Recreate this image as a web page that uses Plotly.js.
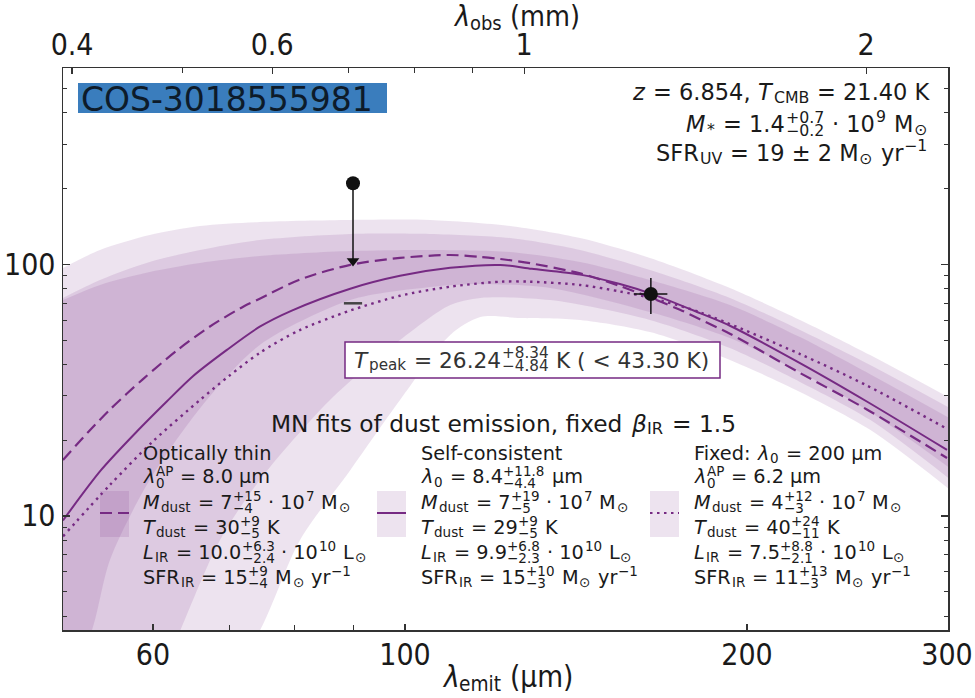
<!DOCTYPE html>
<html><head><meta charset="utf-8">
<script src="https://cdn.plot.ly/plotly-3.0.1.min.js"></script>
<style>body{margin:0;background:#fff}#chart{width:975px;height:698px}</style>
</head><body><div id="chart"></div>
<script>
// ---------------- data ----------------
const redshift = 6.854;
// self-consistent fit (solid)
const selfLam  = [50, 54, 58.1, 61.7, 65.1, 69.7, 74.5, 79.5, 89.5, 99, 109.6, 121.3, 129.3, 142.6, 154.6, 164.6, 181.8, 193.2, 222.7, 255, 300];
const selfFlux = [9.6, 15.2, 21.7, 28.5, 36, 45.7, 56.5, 65.5, 80, 90, 96.8, 99.4, 96, 91, 83.5, 76.5, 64, 57, 40.5, 28.5, 18.3];
// optically thin fit (dashed)
const thinLam  = [50, 52.6, 55, 58.8, 63, 67.3, 72.1, 74.5, 80.8, 89.5, 99, 109.6, 116.5, 121.3, 128.9, 142.6, 154.6, 174.6, 181.8, 193.2, 222.7, 255, 300];
const thinFlux = [16.7, 21.5, 26.5, 35.0, 45.5, 56.5, 68, 73, 87, 99.5, 106, 108.9, 107, 105, 101, 92, 82, 66, 60.5, 53, 37, 26.5, 17.0];
// fixed lambda0 = 200 um fit (dotted)
const fixLam  = [50, 55, 60, 66, 70, 74.5, 80.8, 89.5, 99, 109.6, 121.3, 128.9, 142.6, 154.6, 164.6, 181.8, 222.7, 255, 300];
const fixFlux = [8.3, 13.3, 19.8, 28.9, 36, 44.5, 54.8, 65.5, 75, 81.5, 85.3, 85.3, 82.8, 78, 73.5, 64.5, 44, 33, 22.2];
// uncertainty bands: upper edges
const hiLam   = [50, 53.9, 59.6, 66.0, 74.5, 89.5, 105.2, 123.7, 142.6, 164.3, 193.2, 222.7, 256.7, 300.6];
const fixHi   = [96.7, 114, 130.7, 142, 147.3, 150, 150, 142, 127.2, 105.9, 80.5, 60.1, 43.6, 29.7];
const thinHi  = [73.5, 86.6, 102.1, 114, 124.9, 132, 132, 127.2, 114, 94.9, 73.5, 54.8, 39.8, 27.1];
const selfHi  = [72.1, 82.8, 93.2, 101.2, 107.9, 112.9, 114, 111.9, 102.1, 86.6, 68.9, 51.4, 36.6, 24.7];
// uncertainty bands: lower edges
const thinLoLam = [50, 53.0, 55.0, 59.6, 66.9, 74.5, 89.5, 105.2, 116.5, 134.2, 164.3, 193.2, 222.7, 256.7, 300.6];
const thinLo    = [2.0, 3.5, 6.7, 13.9, 28.9, 47.8, 72.1, 81.2, 83.5, 80.5, 64.6, 50.9, 37.3, 25.9, 15.7];
const selfLoLam = [50, 59.6, 63.4, 68.7, 74.5, 85.9, 99.0, 109.6, 116.5, 134.2, 164.3, 193.2, 222.7, 256.7, 300.6];
const selfLo    = [0.5, 1.8, 3.5, 8.0, 13.9, 28.9, 50.0, 68.9, 73.5, 72.1, 60.1, 46.5, 34.1, 24.1, 14.2];
const fixLoLam  = [50, 66.0, 74.5, 80.8, 89.5, 99.0, 109.6, 116.5, 126.3, 142.6, 164.3, 193.2, 222.7, 256.7, 300.6];
const fixLo     = [0.1, 1.5, 3.5, 8.0, 15.2, 28.9, 52.4, 61.7, 61.2, 60.1, 53.8, 41.7, 31.1, 22.0, 12.9];
// photometry
const limLam = [90.0], limFlux = [210], limHeadFlux = [103], limTickFlux = [70];
const detLam = [164.6], detFlux = [76.2], detErrUp = [12.0], detErrDn = [12.7], detLamErrUp = [5.6], detLamErrDn = [5.6];
// T_peak marker
const peakLam = 129.3, peakFlux = 96;
// ticks
const emitTickVals = [60, 100, 200, 300], emitTickText = ['60', '100', '200', '300'], emitMinor = [70, 80, 90];
const obsTickVals = [0.4, 0.6, 1, 2], obsTickText = ['0.4', '0.6', '1', '2'], obsMinor = [0.5, 0.7, 0.8, 0.9];
const fluxTickVals = [10, 100], fluxTickText = ['10', '100'];
const fluxMinor = [4, 5, 6, 7, 8, 9, 20, 30, 40, 50, 60, 70, 80, 90, 200, 300, 400, 500];

// ---------------- style ----------------
const PURPLE = 'rgb(118,42,131)';
const BAND = 'rgba(118,42,131,0.13)';
const TXT = '#1a1a1a';
const FONT = 'DejaVu Sans';
const NARROW = 'Liberation Sans Narrow, DejaVu Sans Condensed, sans-serif';
const NARROW_CSS = '"Liberation Sans Narrow", "DejaVu Sans Condensed", sans-serif';
const L = 63, R = 948, T = 68, B = 630, PW = R - L, PH = B - T;
const XR = [Math.log10(50), Math.log10(300.6)], YR = [0.547, 2.78];
const px = x => (x - L) / PW, py = y => (B - y) / PH;

// ---------------- text runs (one plain text per run) ----------------
const cv = document.createElement('canvas').getContext('2d');
function meas(t, s, it, narrow) {
  cv.font = (it ? 'italic ' : '') + s + 'px ' + (narrow ? NARROW_CSS : '"' + FONT + '"');
  return cv.measureText(t).width;
}
const I = t => ({t, i: true}), S = t => ({t, sub: true}), P = t => ({t, sup: true}), K = (up, dn) => ({up, dn});
const anns = [], shapes = [];
function ann(x, y, t, s, it, color, narrow) {
  anns.push({xref: 'paper', yref: 'paper', x: px(x), y: py(y), xanchor: 'left', yanchor: 'middle',
    text: t.replace(/&/g, '&amp;').replace(/</g, '&lt;').replace(/>/g, '&gt;'), showarrow: false, borderpad: 0, borderwidth: 0,
    font: {family: narrow ? NARROW : FONT, size: s, color: color || TXT, style: it ? 'italic' : 'normal'}});
}
function runs(items, x, y, size, align, color, narrow) {
  const parts = []; let w = 0;
  for (const raw of items) {
    const o = typeof raw === 'string' ? {t: raw} : raw;
    if (o.up !== undefined) {
      const s = size * 0.7;
      parts.push({k: 'st', x: w, o, s});
      w += Math.max(meas(o.up, s, false, narrow), meas(o.dn, s, false, narrow)) + 0.8;
    } else {
      const s = (o.sub || o.sup) ? size * 0.7 : size;
      const sp = meas(' ', s, false, narrow);
      const lead = o.t.length - o.t.replace(/^ +/, '').length;
      const trail = o.t.length - o.t.replace(/ +$/, '').length;
      const core = o.t.trim();
      w += lead * sp;
      if (core.length) {
        parts.push({k: 't', x: w, o, s, core});
        w += meas(core, s, o.i, narrow) + trail * sp + (o.i ? 1.6 : 0.8);
      }
    }
  }
  const x0 = align === 'left' ? x : align === 'right' ? x - w : x - w / 2;
  for (const p of parts) {
    if (p.k === 't') {
      const dy = p.o.sub ? 0.25 * size : p.o.sup ? -0.33 * size : 0;
      ann(x0 + p.x, y + dy, p.core, p.s, p.o.i, color, narrow);
    } else {
      ann(x0 + p.x, y - 0.31 * size, p.o.up, p.s, false, color, narrow);
      ann(x0 + p.x, y + 0.29 * size, p.o.dn, p.s, false, color, narrow);
    }
  }
}

// axis titles
runs([I('λ'), S('emit'), ' (μm)'], 508, 677, 29.5, 'center', TXT, true);
runs([I('λ'), S('obs'), ' (mm)'], 517, 16, 28.5, 'center', TXT, true);

// galaxy label
shapes.push({type: 'rect', xref: 'paper', yref: 'paper', x0: px(78), x1: px(387), y0: py(113), y1: py(83),
  fillcolor: '#3a7dbd', line: {width: 0}, layer: 'above'});
runs(['COS-3018555981'], 81, 99, 33, 'left', '#0d1b2a');

// info block
runs([I('z'), ' = 6.854, ', I('T'), S('CMB'), ' = 21.40 K'], 930, 92, 22.5, 'right');
runs([I('M'), S('*'), ' = 1.4', K('+0.7', '−0.2'), ' · 10', P('9'), ' M', S('⊙')], 928, 124, 22.5, 'right');
runs(['SFR', S('UV'), ' = 19 ± 2 M', S('⊙'), ' yr', P('−1')], 928, 153, 22.5, 'right');

// T_peak box and its connector to the curve
shapes.push({type: 'rect', xref: 'paper', yref: 'paper', x0: px(345), x1: px(720), y0: py(378), y1: py(342),
  fillcolor: 'white', line: {color: PURPLE, width: 1.5}, layer: 'above'});
runs([I('T'), S('peak'), ' = 26.24', K('+8.34', '−4.84'), ' K ( < 43.30 K)'], 532, 360, 21.7, 'center', '#333');
shapes.push({type: 'line', xref: 'x', yref: 'paper', x0: Math.log10(peakLam), x1: Math.log10(peakLam),
  y0: (Math.log10(peakFlux) - YR[0]) / (YR[1] - YR[0]), y1: py(342), line: {color: PURPLE, width: 1.5}, layer: 'above'});

// legend
runs(['MN fits of dust emission, fixed ', I('β'), S('IR'), ' = 1.5'], 504, 423, 23.3, 'center');
const rowY = [453, 477, 502, 527, 552, 577];
const cols = [
  {x: 143, patch: 100, dash: '12px,6px', lines: [
    ['Optically thin'],
    [I('λ'), K('AP', '0'), ' = 8.0 μm'],
    [I('M'), S('dust'), ' = 7', K('+15', '−4'), ' · 10', P('7'), ' M', S('⊙')],
    [I('T'), S('dust'), ' = 30', K('+9', '−5'), ' K'],
    [I('L'), S('IR'), ' = 10.0', K('+6.3', '−2.4'), ' · 10', P('10'), ' L', S('⊙')],
    ['SFR', S('IR'), ' = 15', K('+9', '−4'), ' M', S('⊙'), ' yr', P('−1')]]},
  {x: 421, patch: 377, dash: 'solid', lines: [
    ['Self-consistent'],
    [I('λ'), S('0'), ' = 8.4', K('+11.8', '−4.4'), ' μm'],
    [I('M'), S('dust'), ' = 7', K('+19', '−5'), ' · 10', P('7'), ' M', S('⊙')],
    [I('T'), S('dust'), ' = 29', K('+9', '−5'), ' K'],
    [I('L'), S('IR'), ' = 9.9', K('+6.8', '−2.3'), ' · 10', P('10'), ' L', S('⊙')],
    ['SFR', S('IR'), ' = 15', K('+10', '−3'), ' M', S('⊙'), ' yr', P('−1')]]},
  {x: 694, patch: 650, dash: '2.5px,4.5px', lines: [
    ['Fixed: ', I('λ'), S('0'), ' = 200 μm'],
    [I('λ'), K('AP', '0'), ' = 6.2 μm'],
    [I('M'), S('dust'), ' = 4', K('+12', '−3'), ' · 10', P('7'), ' M', S('⊙')],
    [I('T'), S('dust'), ' = 40', K('+24', '−11'), ' K'],
    [I('L'), S('IR'), ' = 7.5', K('+8.8', '−2.1'), ' · 10', P('10'), ' L', S('⊙')],
    ['SFR', S('IR'), ' = 11', K('+13', '−3'), ' M', S('⊙'), ' yr', P('−1')]]}
];
for (const c of cols) {
  c.lines.forEach((ln, k) => runs(ln, c.x, rowY[k], 19.3, 'left'));
  shapes.push({type: 'rect', xref: 'paper', yref: 'paper', x0: px(c.patch), x1: px(c.patch + 29), y0: py(537), y1: py(491),
    fillcolor: BAND, line: {width: 0}, layer: 'above'});
  shapes.push({type: 'line', xref: 'paper', yref: 'paper', x0: px(c.patch), x1: px(c.patch + 29), y0: py(513), y1: py(513),
    line: {color: PURPLE, width: 2, dash: c.dash}, layer: 'above'});
}

// ---------------- traces ----------------
function band(loX, lo, hiX, hi) {
  return [
    {x: loX, y: lo, mode: 'lines', line: {width: 0, shape: 'spline', smoothing: 0.8}, hoverinfo: 'skip', showlegend: false},
    {x: hiX, y: hi, mode: 'lines', line: {width: 0, shape: 'spline', smoothing: 0.8}, fill: 'tonexty', fillcolor: BAND, hoverinfo: 'skip', showlegend: false}
  ];
}
const traces = [
  ...band(fixLoLam, fixLo, hiLam, fixHi), ...band(selfLoLam, selfLo, hiLam, selfHi), ...band(thinLoLam, thinLo, hiLam, thinHi),
  {x: thinLam, y: thinFlux, mode: 'lines', line: {color: PURPLE, width: 2.2, dash: '12px,6px', shape: 'spline', smoothing: 0.8}, name: 'Optically thin'},
  {x: selfLam, y: selfFlux, mode: 'lines', line: {color: PURPLE, width: 2, shape: 'spline', smoothing: 0.8}, name: 'Self-consistent'},
  {x: fixLam, y: fixFlux, mode: 'lines', line: {color: PURPLE, width: 2.4, dash: '2.5px,4.5px', shape: 'spline', smoothing: 0.8}, name: 'Fixed'},
  {x: [limLam[0], limLam[0]], y: [limFlux[0], limHeadFlux[0]], mode: 'lines', line: {color: '#111', width: 1.5}, showlegend: false},
  {x: limLam, y: limHeadFlux, mode: 'markers', marker: {symbol: 'triangle-down', size: 11, color: '#111'}, showlegend: false},
  {x: limLam, y: limFlux, mode: 'markers', marker: {symbol: 'circle', size: 14, color: '#111'}, showlegend: false},
  {x: limLam, y: limTickFlux, mode: 'markers', marker: {symbol: 'line-ew', size: 13, line: {width: 2.5, color: '#444'}}, showlegend: false},
  {x: detLam, y: detFlux, mode: 'markers', marker: {symbol: 'circle', size: 14, color: '#111'},
    error_y: {type: 'data', symmetric: false, array: detErrUp, arrayminus: detErrDn, thickness: 1.5, width: 0, color: '#111'},
    error_x: {type: 'data', symmetric: false, array: detLamErrUp, arrayminus: detLamErrDn, thickness: 1.5, width: 0, color: '#111'},
    showlegend: false},
  {x: obsTickVals, y: obsTickVals.map(() => 10), xaxis: 'x2', mode: 'none', hoverinfo: 'skip', showlegend: false}
];

const axLine = {showline: true, linecolor: '#333', linewidth: 1.5, showgrid: false, zeroline: false, ticks: 'inside', tickcolor: '#333', tickwidth: 1.2};
const TICKF = {family: NARROW, size: 30, color: TXT};
const layout = {
  width: 975, height: 698, margin: {l: L, r: 975 - R, t: T, b: 698 - B},
  paper_bgcolor: 'white', plot_bgcolor: 'white', showlegend: false,
  xaxis: {...axLine, type: 'log', range: XR, tickvals: emitTickVals, ticktext: emitTickText, ticklen: 6, ticklabelstandoff: -3,
    minor: {ticks: 'inside', ticklen: 5, tickvals: emitMinor, tickcolor: '#333', tickwidth: 1}, tickfont: TICKF},
  xaxis2: {...axLine, type: 'log', overlaying: 'x', side: 'top', anchor: 'y',
    range: [Math.log10(50 * (1 + redshift) / 1000), Math.log10(300.6 * (1 + redshift) / 1000)],
    tickvals: obsTickVals, ticktext: obsTickText, ticklen: 6,
    minor: {ticks: 'inside', ticklen: 5, tickvals: obsMinor, tickcolor: '#333', tickwidth: 1}, tickfont: TICKF},
  yaxis: {...axLine, type: 'log', range: YR, tickvals: fluxTickVals, ticktext: fluxTickText, ticklen: 7, mirror: 'ticks',
    minor: {ticks: 'inside', ticklen: 4, tickvals: fluxMinor, tickcolor: '#333', tickwidth: 1}, tickfont: TICKF},
  shapes, annotations: anns
};
Plotly.newPlot('chart', traces, layout, {displayModeBar: false, staticPlot: true});
</script></body></html>
